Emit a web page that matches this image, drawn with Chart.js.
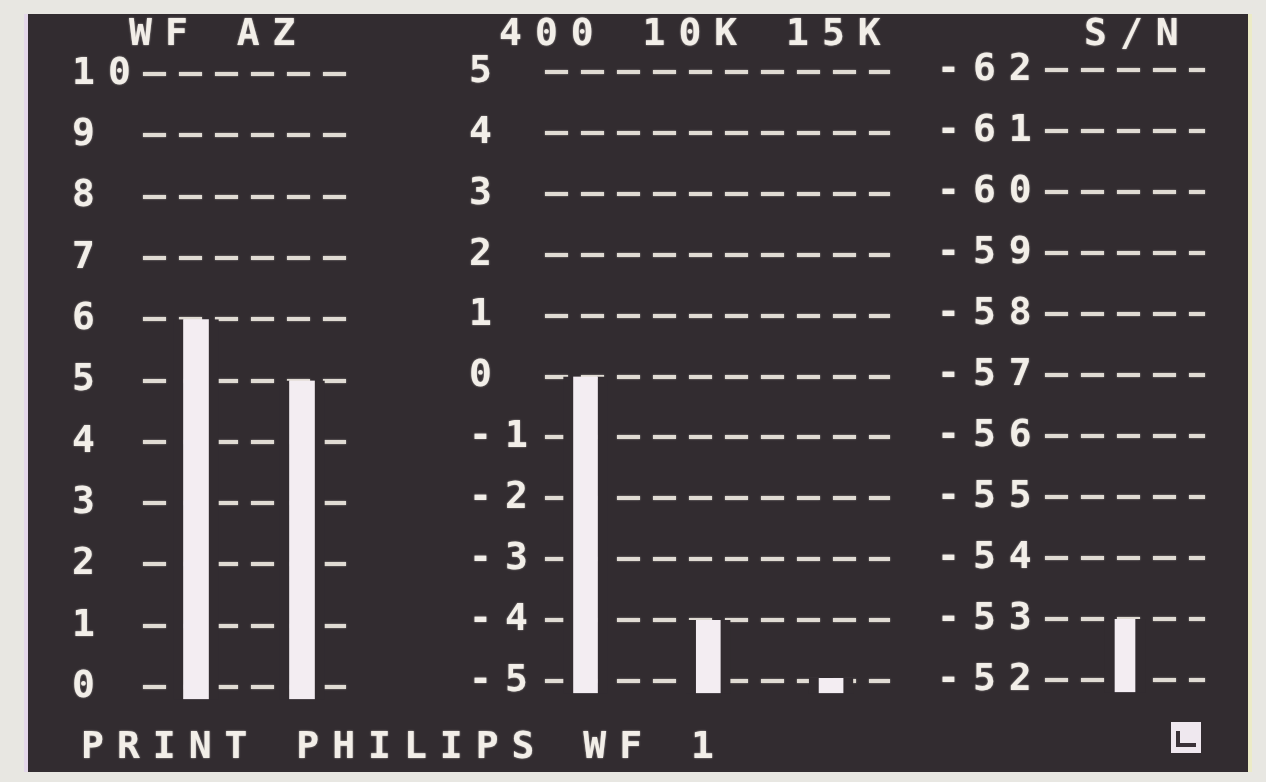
<!DOCTYPE html>
<html>
<head>
<meta charset="utf-8">
<title>PHILIPS WF</title>
<script src="https://cdn.jsdelivr.net/npm/chart.js@4.4.0/dist/chart.umd.min.js"></script>
<style>
  html, body { margin: 0; padding: 0; background: #e8e7e2; }
  body { width: 1266px; height: 782px; position: relative; overflow: hidden; }
  #screen {
    position: absolute; left: 28px; top: 14px; width: 1220px; height: 758px;
    background: #322c30;
    box-shadow: -4px 0 0 #e4d8ea, 4px 0 0 #ecebc6;
  }
  .chart { position: absolute; top: 0; }
  .txt {
    position: absolute; color: #f2eee8; white-space: pre;
    font: bold 38px "DejaVu Sans Mono", "Liberation Mono", monospace;
    letter-spacing: 13px; line-height: 38px;
    text-shadow: 0 0 2px rgba(242, 238, 232, 0.7);
  }
  #cursor {
    position: absolute; left: 1171px; top: 722px; width: 30px; height: 31px;
    background: #efe8ef;
  }
  #cursor div {
    position: absolute; left: 5px; top: 9px; width: 16px; height: 12px;
    border-left: 4px solid #3a3238; border-bottom: 4px solid #3a3238;
  }
</style>
</head>
<body>
<div id="screen"></div>
<canvas id="wfAz" class="chart" width="290" height="740" style="left:72px"></canvas>
<canvas id="freq" class="chart" width="425" height="740" style="left:469px"></canvas>
<canvas id="sn" class="chart" width="272" height="740" style="left:937px"></canvas>
<div id="hdrWfAz" class="txt" style="left:129px;top:13px"></div>
<div id="hdrFreq" class="txt" style="left:499px;top:13px"></div>
<div id="hdrSn" class="txt" style="left:1084px;top:13px"></div>
<div id="status" class="txt" style="left:81px;top:726px"></div>
<div id="cursor"><div></div></div>
<script>
// wow & flutter / azimuth
const wfAzLabels = ['WF', 'AZ'];
const wfAzValues = [6, 5];
const wfAzRange = [0, 10];

// frequency response at 400 Hz, 10 kHz, 15 kHz
const freqLabels = ['400', '10K', '15K'];
const freqValues = [0, -4, -4.95];
const freqRange = [-5, 5];

// signal to noise, scale runs -52 at the bottom to -62 at the top
const snLabels = ['S/N'];
const snValues = [-53];
const snRange = [-62, -52];

const statusLine = 'PRINT PHILIPS WF 1';

const mono = '"DejaVu Sans Mono", "Liberation Mono", monospace';
const ink = '#f2eee8';
const dashInk = '#e0dbd3';
const barInk = '#f3edf2';
const screenBg = '#322c30';

// terminal style character spacing and a little phosphor glow on the scales
const crtText = {
  id: 'crtText',
  beforeDraw(chart) {
    const ctx = chart.ctx;
    ctx.letterSpacing = '13px';
    ctx.shadowColor = 'rgba(242, 238, 232, 0.6)';
    ctx.shadowBlur = 2;
  },
  beforeDatasetsDraw(chart) {
    chart.ctx.shadowBlur = 0;
    chart.ctx.shadowColor = 'transparent';
  }
};

function levelAxis(range, width, extra) {
  return Object.assign({
    min: range[0],
    max: range[1],
    afterFit(scale) { scale.width = width; },
    ticks: {
      stepSize: 1, autoSkip: false, color: ink, crossAlign: 'far', padding: 0,
      font: { family: mono, size: 38, weight: 'bold' }
    },
    grid: { color: dashInk, lineWidth: 4, drawTicks: false },
    border: { display: false, dash: [23, 13] }
  }, extra || {});
}

function barSet(data, base, thickness) {
  return {
    data, base,
    backgroundColor: barInk,
    borderColor: screenBg,
    borderWidth: { top: 0, bottom: 0, left: 10, right: 10 },
    borderSkipped: false,
    barThickness: thickness,
    clip: false
  };
}

function makeChart(id, labels, dataset, xAxis, yAxis, padding) {
  return new Chart(document.getElementById(id), {
    type: 'bar',
    data: { labels, datasets: [dataset] },
    options: {
      responsive: false,
      animation: false,
      events: [],
      layout: { padding },
      plugins: { legend: { display: false }, tooltip: { enabled: false } },
      scales: { x: xAxis, y: yAxis }
    },
    plugins: [crtText]
  });
}

makeChart('wfAz', wfAzLabels,
  barSet(wfAzValues, -0.2, 45),
  { display: false },
  levelAxis(wfAzRange, 71),
  { top: 74, bottom: 53, left: 0, right: 7 });

makeChart('freq', freqLabels,
  barSet(freqValues.map((v, i) => ({ x: i, y: v })), -5.2, 44),
  { type: 'linear', display: false, min: -0.33, max: 2.48, offset: false },
  levelAxis(freqRange, 76),
  { top: 72, bottom: 59, left: 0, right: 4 });

makeChart('sn', snLabels,
  barSet(snValues, -51.8, 40),
  { display: false },
  levelAxis(snRange, 108, { reverse: true }),
  { top: 70, bottom: 60, left: 0, right: 4 });

document.getElementById('hdrWfAz').textContent = wfAzLabels.join(' ');
document.getElementById('hdrFreq').textContent = freqLabels.join(' ');
document.getElementById('hdrSn').textContent = snLabels.join(' ');
document.getElementById('status').textContent = statusLine;
</script>
</body>
</html>
